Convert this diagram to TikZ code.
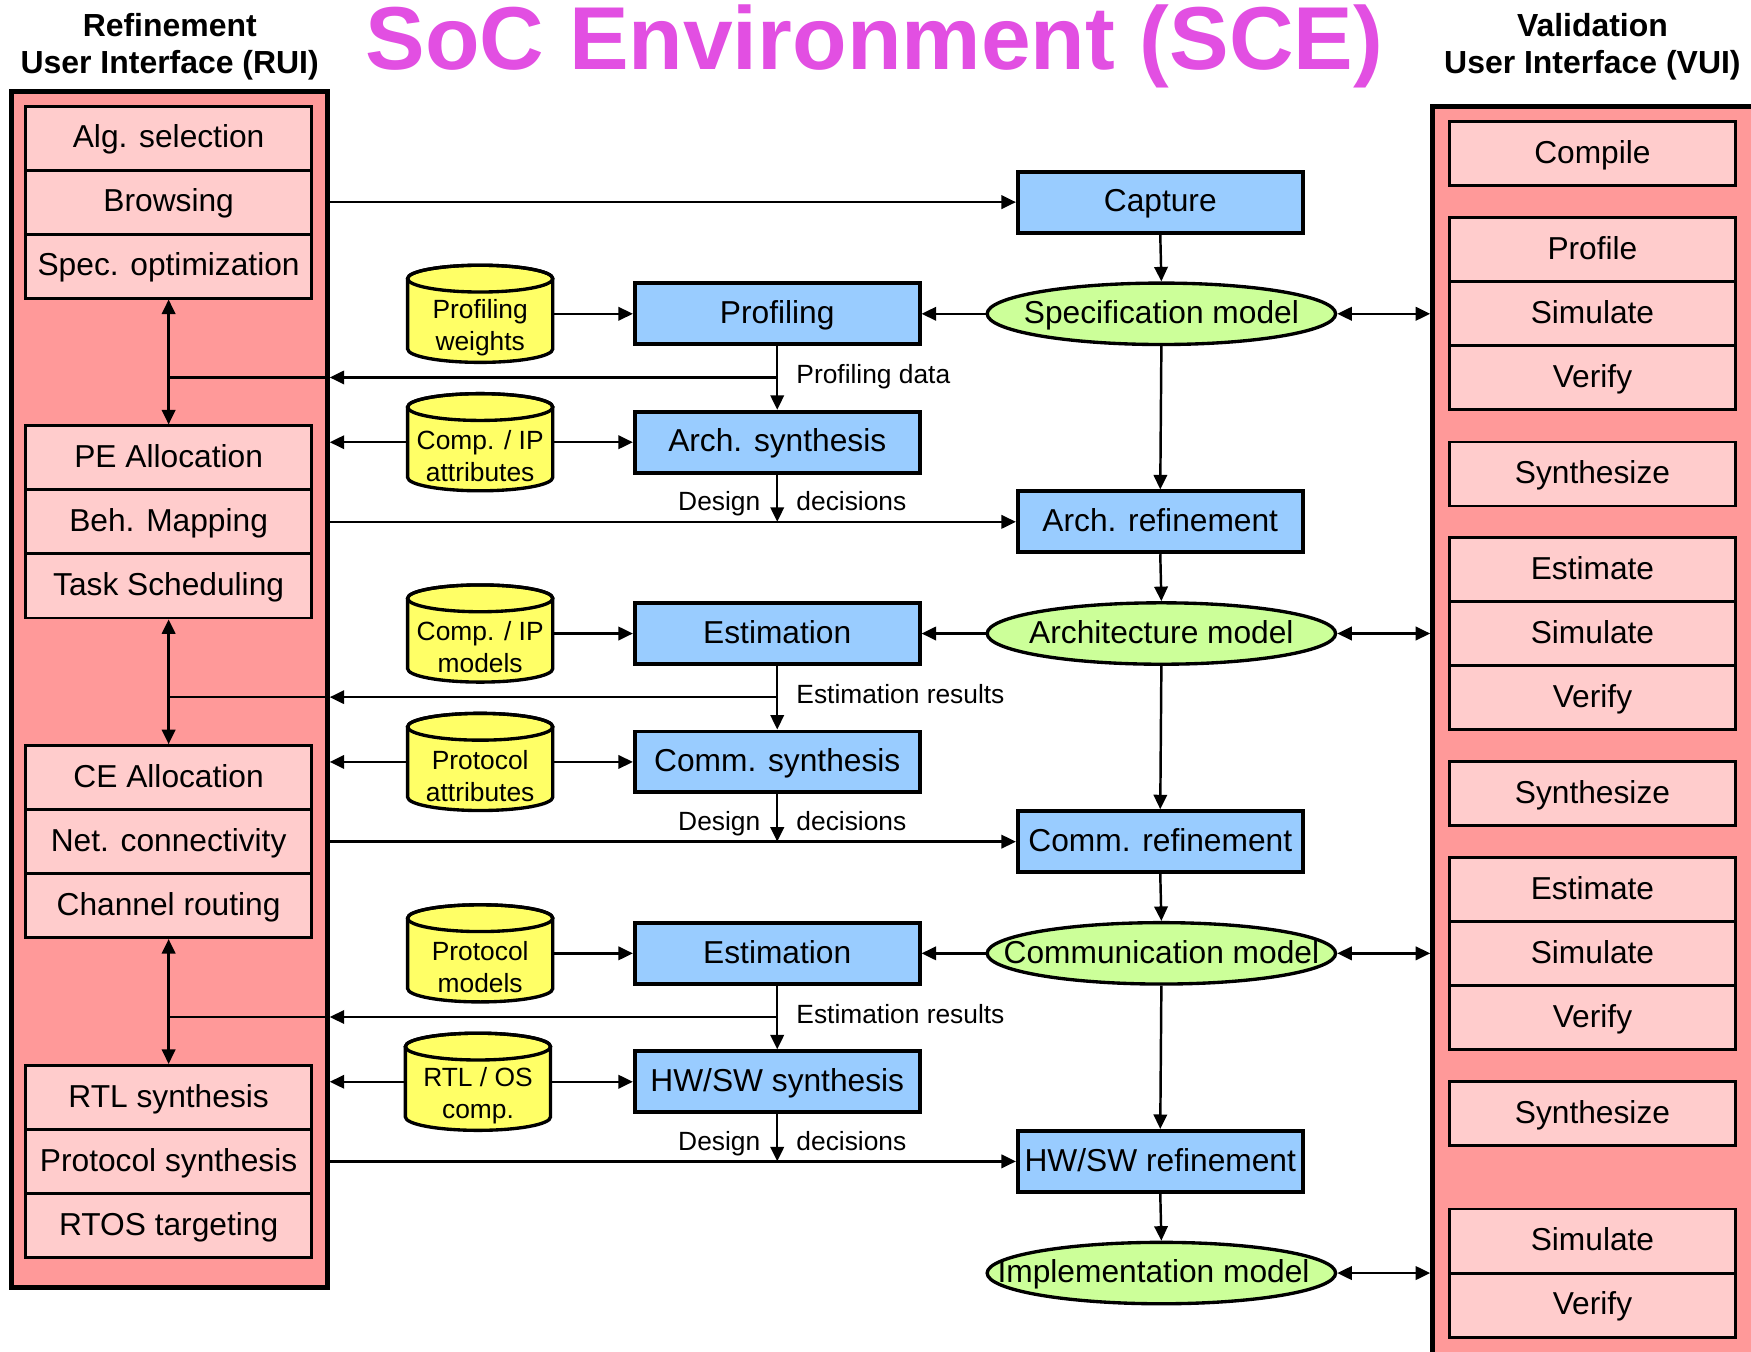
\documentclass[tikz,border=0pt]{standalone}
\usepackage{fontspec}
\setmainfont{Liberation Sans}
\usetikzlibrary{arrows.meta,shapes.geometric}

\definecolor{panelred}{HTML}{FF9999}
\definecolor{itempink}{HTML}{FFCCCC}
\definecolor{taskblue}{HTML}{99CCFF}
\definecolor{modelgreen}{HTML}{CCFF99}
\definecolor{dbyellow}{HTML}{FFFF66}
\definecolor{titlemagenta}{HTML}{E24FE2}

% database cylinder: name, x, y, text
\newcommand\dbcyl[4]{%
  \path[draw=black, line width=3pt, fill=dbyellow]
    (#2-65,#3-31.5) -- (#2-65,#3+31.5)
    arc[start angle=180, end angle=360, x radius=65pt, y radius=12pt]
    -- (#2+65,#3-31.5)
    arc[start angle=0, end angle=180, x radius=65pt, y radius=12pt] -- cycle;
  \draw[line width=3pt] (#2,#3-31.5) ellipse[x radius=65pt, y radius=12pt];
  \node[dbbox] (#1) at (#2,#3) {};
  \node[dbtext] (#1-text) at (#2,#3+12.5) {#4};
}

\begin{document}
\begin{tikzpicture}[x=1pt, y=-1pt,
  >={Triangle[length=13pt, width=12pt]},
  boxfont/.style={font=\fontsize{28.4}{34}\selectfont},
  lbl/.style={font=\fontsize{23.6}{28.5}\selectfont, inner sep=0pt},
  hdr/.style={font=\fontsize{28.6}{33}\selectfont\bfseries, inner sep=0pt},
  panel/.style={draw, line width=4.5pt, fill=panelred, inner sep=0pt},
  item/.style={draw, line width=2.5pt, fill=itempink, minimum width=256pt,
    minimum height=57.33pt, inner sep=0pt, boxfont, text height=21.5pt, text depth=4pt},
  task/.style={draw, line width=3.5pt, fill=taskblue, minimum width=255pt,
    minimum height=54.5pt, inner sep=0pt, boxfont, text height=21.5pt, text depth=4pt},
  model/.style={ellipse, draw, line width=3pt, fill=modelgreen, minimum width=312pt,
    minimum height=55pt, inner sep=0pt, boxfont, text height=21.5pt, text depth=4pt},
  dbbox/.style={minimum width=130pt, minimum height=87pt, inner sep=0pt, outer sep=0pt},
  dbtext/.style={align=center, font=\fontsize{23.6}{28.5}\selectfont, inner sep=0pt},
  conn/.style={line width=2.2pt},
]
\useasboundingbox (0,0) rectangle (1568,1210);
\clip (0,0) rectangle (1568,1210);

% title and headers
\node[font=\fontsize{80}{90}\selectfont\bfseries, text=titlemagenta, anchor=base, inner sep=0pt]
  (title) at (783,62) {SoC Environment (SCE)};
\node[hdr, anchor=base] (ruihead1) at (152,33) {Refinement};
\node[hdr, anchor=base] (ruihead2) at (152,66) {User Interface (RUI)};
\node[hdr, anchor=base] (vuihead1) at (1426,33) {Validation};
\node[hdr, anchor=base] (vuihead2) at (1426,66) {User Interface (VUI)};

% refinement user interface
\node[panel, minimum width=283pt, minimum height=1071pt] (rui) at (151.5,617.5) {};
\node[item] (alg)   at (151,123.7)  {Alg. selection};
\node[item] (brw)   at (151,181)    {Browsing};
\node[item] (sopt)  at (151,238.3)  {Spec. optimization};
\node[item] (pea)   at (151,410)    {PE Allocation};
\node[item] (beh)   at (151,467.3)  {Beh. Mapping};
\node[item] (tsch)  at (151,524.7)  {Task Scheduling};
\node[item] (cea)   at (151,696.3)  {CE Allocation};
\node[item] (net)   at (151,753.7)  {Net. connectivity};
\node[item] (chr)   at (151,811)    {Channel routing};
\node[item] (rtl)   at (151,982.7)  {RTL synthesis};
\node[item] (prs)   at (151,1040)   {Protocol synthesis};
\node[item] (rtos)  at (151,1097.3) {RTOS targeting};

% validation user interface
\node[panel, minimum width=337pt, minimum height=1165pt] (vui) at (1451.5,677.5) {};
\node[item] (cmp)   at (1426,137.5)  {Compile};
\node[item] (prf)   at (1426,223.7)  {Profile};
\node[item] (sim1)  at (1426,281)    {Simulate};
\node[item] (ver1)  at (1426,338.3)  {Verify};
\node[item] (syn1)  at (1426,424.5)  {Synthesize};
\node[item] (est1)  at (1426,510)    {Estimate};
\node[item] (sim2)  at (1426,567.3)  {Simulate};
\node[item] (ver2)  at (1426,624.7)  {Verify};
\node[item] (syn2)  at (1426,710.8)  {Synthesize};
\node[item] (est2)  at (1426,796.3)  {Estimate};
\node[item] (sim3)  at (1426,853.7)  {Simulate};
\node[item] (ver3)  at (1426,911)    {Verify};
\node[item] (syn3)  at (1426,997.2)  {Synthesize};
\node[item] (sim4)  at (1426,1111.3) {Simulate};
\node[item] (ver4)  at (1426,1168.7) {Verify};

% refinement flow
\node[task] (cap)    at (1039,181)    {Capture};
\node[model] (spec)  at (1040,281)    {\makebox[0pt]{Specification model}};
\node[task] (archref) at (1039,467.3) {Arch. refinement};
\node[model] (archm) at (1040,567.3)  {\makebox[0pt]{Architecture model}};
\node[task] (commref) at (1039,753.7) {Comm. refinement};
\node[model] (commm) at (1040,853.7)  {\makebox[0pt]{Communication model}};
\node[task] (hwref)  at (1039,1040)   {\makebox[0pt]{HW/SW refinement}};
\node[model] (implm) at (1040,1140)   {\makebox[0pt]{\hspace*{-14pt}Implementation model}};

% synthesis tasks
\node[task] (prof)    at (696,281)   {Profiling};
\node[task] (archsyn) at (696,396)   {Arch. synthesis};
\node[task] (est1t)   at (696,567.3) {Estimation};
\node[task] (commsyn) at (696,682.3) {Comm. synthesis};
\node[task] (est2t)   at (696,853.7) {Estimation};
\node[task] (hwsyn)   at (696,968.7) {HW/SW synthesis};

% databases
\dbcyl{pw}{430}{281}{Profiling\\weights}
\dbcyl{cia}{430}{396}{Comp. / IP\\attributes}
\dbcyl{cim}{430}{567.3}{Comp. / IP\\models}
\dbcyl{pa}{430}{682.3}{Protocol\\attributes}
\dbcyl{pm}{430}{853.7}{Protocol\\models}
\dbcyl{ro}{428}{968.7}{RTL / OS\\comp.}

% junction points on the feedback lines
\coordinate (fb1) at (696,338);
\coordinate (fb2) at (696,624.3);
\coordinate (fb3) at (696,910.7);
\coordinate (in1) at (151,338);
\coordinate (in2) at (151,624.3);
\coordinate (in3) at (151,910.7);

\begin{scope}[conn]
  % inputs from the refinement UI
  \draw[->] (rui.east |- brw)  -- (cap.west);
  \draw[->] (rui.east |- beh)  -- (archref.west);
  \draw[->] (rui.east |- net)  -- (commref.west);
  \draw[->] (rui.east |- prs)  -- (hwref.west);

  % main refinement chain
  \draw[->] (cap.south) -- (spec.north);
  \draw[->] (spec.south) -- (archref.north);
  \draw[->] (archref.south) -- (archm.north);
  \draw[->] (archm.south) -- (commref.north);
  \draw[->] (commref.south) -- (commm.north);
  \draw[->] (commm.south) -- (hwref.north);
  \draw[->] (hwref.south) -- (implm.north);

  % models to tasks and validation
  \draw[->] (spec.west) -- (prof.east);
  \draw[->] (archm.west) -- (est1t.east);
  \draw[->] (commm.west) -- (est2t.east);
  \draw[<->] (spec.east) -- (vui.west |- spec);
  \draw[<->] (archm.east) -- (vui.west |- archm);
  \draw[<->] (commm.east) -- (vui.west |- commm);
  \draw[<->] (implm.east) -- (vui.west |- implm);

  % databases to tasks
  \draw[->] (pw.east)  -- (prof.west);
  \draw[->] (cia.east) -- (archsyn.west);
  \draw[->] (cim.east) -- (est1t.west);
  \draw[->] (pa.east)  -- (commsyn.west);
  \draw[->] (pm.east)  -- (est2t.west);
  \draw[->] (ro.east)  -- (hwsyn.west);
  \draw[->] (cia.west) -- (rui.east |- cia);
  \draw[->] (pa.west)  -- (rui.east |- pa);
  \draw[->] (ro.west)  -- (rui.east |- ro);

  % analysis results
  \draw[->] (prof.south)  -- (archsyn.north);
  \draw[->] (est1t.south) -- (commsyn.north);
  \draw[->] (est2t.south) -- (hwsyn.north);
  \draw[->] (fb1) -- (rui.east |- fb1);
  \draw[->] (fb2) -- (rui.east |- fb2);
  \draw[->] (fb3) -- (rui.east |- fb3);

  % design decisions
  \draw[->] (archsyn.south) -- (archsyn.south |- archref.west);
  \draw[->] (commsyn.south) -- (commsyn.south |- commref.west);
  \draw[->] (hwsyn.south)   -- (hwsyn.south |- hwref.west);

  % links inside the refinement UI
  \draw (in1) -- (rui.east |- in1);
  \draw (in2) -- (rui.east |- in2);
  \draw (in3) -- (rui.east |- in3);
  \draw[<->] (sopt.south) -- (pea.north);
  \draw[<->] (tsch.south) -- (cea.north);
  \draw[<->] (chr.south)  -- (rtl.north);
\end{scope}

% connector labels
\node[lbl, anchor=base west] (pdata) at (713,343) {Profiling data};
\node[lbl, anchor=base west] (eres1) at (713,630) {Estimation results};
\node[lbl, anchor=base west] (eres2) at (713,916.5) {Estimation results};
\node[lbl, anchor=base east] (dd1a) at (681,457.5) {Design};
\node[lbl, anchor=base west] (dd1b) at (713,457.5) {decisions};
\node[lbl, anchor=base east] (dd2a) at (681,744) {Design};
\node[lbl, anchor=base west] (dd2b) at (713,744) {decisions};
\node[lbl, anchor=base east] (dd3a) at (681,1030.5) {Design};
\node[lbl, anchor=base west] (dd3b) at (713,1030.5) {decisions};
\end{tikzpicture}
\end{document}
